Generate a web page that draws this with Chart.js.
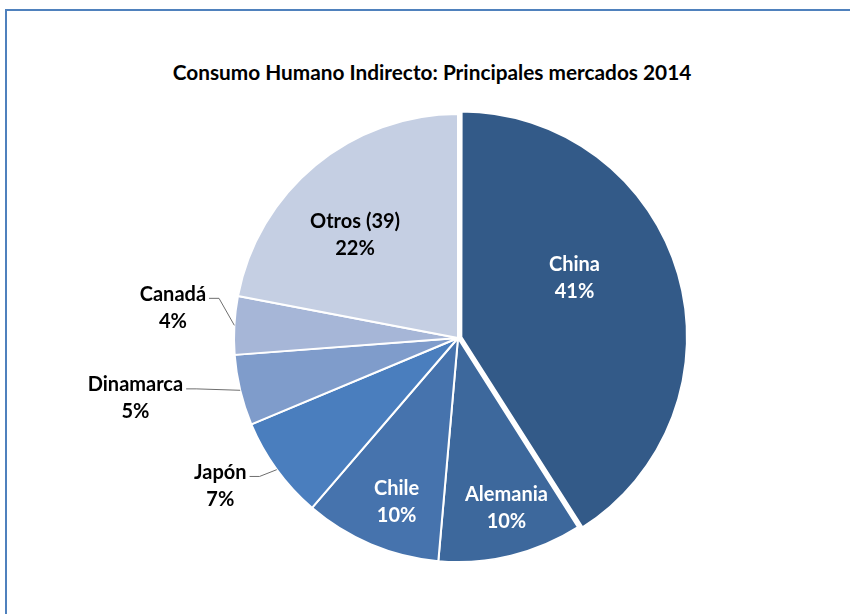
<!DOCTYPE html>
<html>
<head>
<meta charset="utf-8">
<script src="https://cdn.jsdelivr.net/npm/chart.js@4.4.1/dist/chart.umd.min.js"></script>
<style>
    html, body { margin: 0; padding: 0; background: #fff; }
    #wrap { position: relative; width: 850px; height: 614px; overflow: hidden; }
    #frame {
        position: absolute; left: 5px; top: 9px; width: 900px; height: 700px;
        border-top: 2px solid #4f81bd; border-left: 2px solid #4f81bd;
    }
    #title {
        position: absolute; left: 0; top: 59px; width: 864px; text-align: center;
        font: bold 20.8px Lato, sans-serif; color: #000;
    }
    canvas { position: absolute; left: 0; top: 0; }
</style>
</head>
<body>
<div id="wrap">
    <div id="frame"></div>
    <div id="title">Consumo Humano Indirecto: Principales mercados 2014</div>
    <canvas id="chart" width="850" height="614"></canvas>
</div>
<script>
// --- Data ---
const categories = ['China', 'Alemania', 'Chile', 'Japón', 'Dinamarca', 'Canadá', 'Otros (39)'];
const shares = [41, 10.4, 9.9, 7.4, 5.1, 4.2, 22];
const sliceColors = ['#335a88', '#3d689c', '#4673ad', '#4a7ebe', '#7f9ccb', '#a6b6d7', '#c5cfe3'];

// label placement: radial fraction of radius + angle shift (deg), inside or outside
const placement = [
    { r: 0.57, shift: -11.4, inside: true, color: '#fff' },
    { r: 0.79, shift: -2.2, inside: true, color: '#fff' },
    { r: 0.78, shift: -2.3, inside: true, color: '#fff' },
    { r: 1.25, shift: 4.1, inside: false, color: '#000' },
    { r: 1.465, shift: 2.9, inside: false, color: '#000' },
    { r: 1.28, shift: 2.8, inside: false, color: '#000' },
    { r: 0.65, shift: -5.4, inside: true, color: '#000' }
];

const FONT = 'bold 20px Lato, sans-serif';
const LINE_GAP = 27;

const sliceLabels = {
    id: 'sliceLabels',
    afterDatasetsDraw(chart) {
        const ctx = chart.ctx;
        const meta = chart.getDatasetMeta(0);
        const total = shares.reduce((a, b) => a + b, 0);
        ctx.save();
        ctx.font = FONT;
        ctx.textAlign = 'center';
        ctx.textBaseline = 'middle';
        meta.data.forEach((arc, i) => {
            const p = arc.getProps(['x', 'y', 'startAngle', 'endAngle', 'outerRadius'], true);
            const mid = (p.startAngle + p.endAngle) / 2;
            const off = (arc.options.offset || 0) / 4;
            const cx = p.x + Math.cos(mid) * off;
            const cy = p.y + Math.sin(mid) * off;
            const pl = placement[i];
            const a = mid + pl.shift * Math.PI / 180;
            const lx = cx + Math.cos(a) * p.outerRadius * pl.r;
            const ly = cy + Math.sin(a) * p.outerRadius * pl.r;
            const pct = Math.round(shares[i] / total * 100) + '%';

            if (!pl.inside) {
                // leader line: text edge -> short elbow -> slice edge
                const w = ctx.measureText(categories[i]).width;
                const sx = lx + w / 2 + 3;
                const sy = ly - LINE_GAP / 2 + 4;
                const ex = cx + Math.cos(mid) * p.outerRadius;
                const ey = cy + Math.sin(mid) * p.outerRadius;
                ctx.strokeStyle = '#6e6e6e';
                ctx.lineWidth = 1;
                ctx.beginPath();
                ctx.moveTo(sx, sy);
                ctx.lineTo(sx + 10, sy);
                ctx.lineTo(ex, ey);
                ctx.stroke();
            }

            ctx.fillStyle = pl.color;
            ctx.fillText(categories[i], lx, ly - LINE_GAP / 2);
            ctx.fillText(pct, lx, ly + LINE_GAP / 2);
        });
        ctx.restore();
    }
};

new Chart(document.getElementById('chart').getContext('2d'), {
    type: 'pie',
    data: {
        labels: categories,
        datasets: [{
            data: shares,
            backgroundColor: sliceColors,
            borderColor: '#fff',
            borderWidth: 2,
            offset: [14, 0, 0, 0, 0, 0, 0]
        }]
    },
    options: {
        responsive: false,
        animation: false,
        radius: 224,
        layout: { padding: { left: 70, right: 4, top: 70, bottom: 8 } },
        plugins: {
            legend: { display: false },
            title: { display: false },
            tooltip: { enabled: false }
        }
    },
    plugins: [sliceLabels]
});
</script>
</body>
</html>
